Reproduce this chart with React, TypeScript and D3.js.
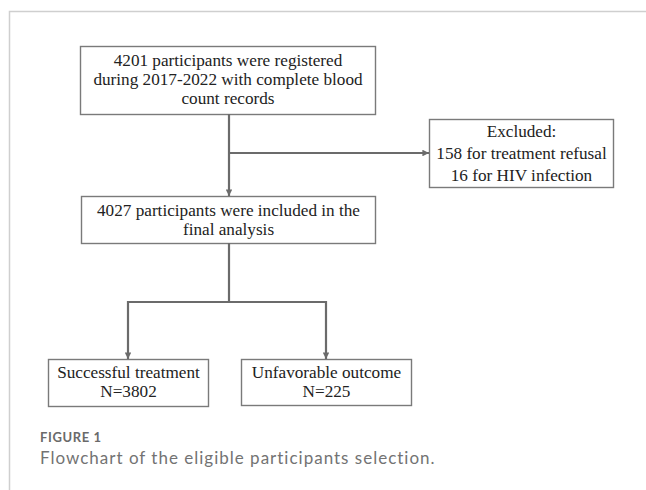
import React, { useEffect, useRef } from 'react';
import * as d3 from 'd3';

// box texts, one array per node
const registeredLines = ['4201 participants were registered', 'during 2017-2022 with complete blood', 'count records'];
const excludedLines = ['Excluded:', '158 for treatment refusal', '16 for HIV infection'];
const includedLines = ['4027 participants were included in the', 'final analysis'];
const successLines = ['Successful treatment', 'N=3802'];
const unfavorableLines = ['Unfavorable outcome', 'N=225'];

const captionLabel = 'FIGURE 1';
const captionText = 'Flowchart of the eligible participants selection.';

function App() {
  const svgRef = useRef<SVGSVGElement>(null);

  useEffect(() => {
    const svg = d3.select(svgRef.current);
    const width = 646;
    const height = 490;
    svg.selectAll('*').remove();

    const lineColor = '#6b6b6b';
    const boxColor = '#7a7a7a';

    // card frame
    svg.append('path')
      .attr('d', `M9.5,${height} V11.5 H${width}`)
      .attr('fill', 'none')
      .attr('stroke', '#cfcfcf')
      .attr('stroke-width', 1.5);

    svg.append('defs').append('marker')
      .attr('id', 'arr')
      .attr('viewBox', '0 0 10 10')
      .attr('refX', 10)
      .attr('refY', 5)
      .attr('markerWidth', 3)
      .attr('markerHeight', 3)
      .attr('markerUnits', 'strokeWidth')
      .attr('orient', 'auto')
      .append('path')
      .attr('d', 'M0,0 L10,5 L0,10 z')
      .attr('fill', lineColor);

    const nodes = [
      { lines: registeredLines, x0: 80, x1: 375, y0: 46, y1: 114, base: 66, step: 19 },
      { lines: excludedLines, x0: 429, x1: 613, y0: 119, y1: 187, base: 137, step: 22 },
      { lines: includedLines, x0: 81, x1: 375, y0: 196, y1: 243, base: 216, step: 19 },
      { lines: successLines, x0: 48, x1: 208, y0: 359, y1: 406, base: 378, step: 19 },
      { lines: unfavorableLines, x0: 241, x1: 411, y0: 359, y1: 405, base: 378, step: 19 },
    ];

    const g = svg.append('g');
    nodes.forEach(n => {
      g.append('rect')
        .attr('x', n.x0 + 0.5)
        .attr('y', n.y0 + 0.5)
        .attr('width', n.x1 - n.x0)
        .attr('height', n.y1 - n.y0)
        .attr('fill', '#fff')
        .attr('stroke', boxColor)
        .attr('stroke-width', 1.4);
      g.selectAll(null)
        .data(n.lines)
        .enter()
        .append('text')
        .attr('x', (n.x0 + n.x1) / 2 + 0.5)
        .attr('y', (d, i) => n.base + i * n.step)
        .attr('text-anchor', 'middle')
        .attr('font-family', '"Liberation Serif", "Times New Roman", serif')
        .attr('font-size', 17.2)
        .attr('fill', '#222')
        .text(d => d);
    });

    const line = d3.line();
    const connectors: [number, number][][] = [
      [[229, 114], [229, 196]],
      [[229, 153], [429, 153]],
      [[229, 243], [229, 302], [128, 302], [128, 359]],
      [[229, 302], [326, 302], [326, 359]],
    ];
    svg.append('g')
      .selectAll('path')
      .data(connectors)
      .enter()
      .append('path')
      .attr('d', d => line(d))
      .attr('fill', 'none')
      .attr('stroke', lineColor)
      .attr('stroke-width', 2.2)
      .attr('marker-end', 'url(#arr)');

    svg.append('text')
      .attr('x', 40)
      .attr('y', 442)
      .attr('font-family', 'Lato, "Open Sans", sans-serif')
      .attr('font-weight', 700)
      .attr('font-size', 13)
      .attr('letter-spacing', 0.6)
      .attr('fill', '#6a6a6a')
      .text(captionLabel);

    svg.append('text')
      .attr('x', 40)
      .attr('y', 464)
      .attr('font-family', 'Lato, "Open Sans", sans-serif')
      .attr('font-size', 17)
      .attr('letter-spacing', 1)
      .attr('fill', '#737373')
      .text(captionText);
  }, []);

  return (
    <svg
      ref={svgRef}
      width="646"
      height="490"
      style={{ position: 'absolute', left: 0, top: 0, background: '#fff' }}
    ></svg>
  );
}

export default App;
